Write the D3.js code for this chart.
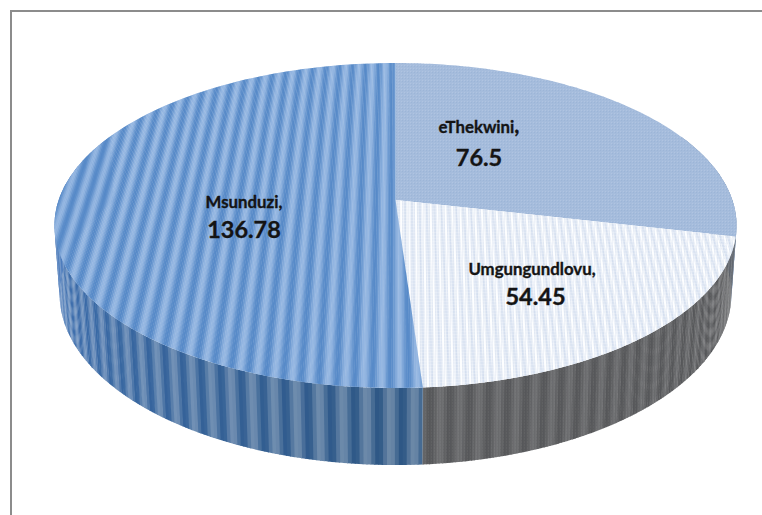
<!DOCTYPE html>
<html>
<head>
<meta charset="utf-8">
<script src="https://cdnjs.cloudflare.com/ajax/libs/d3/7.8.5/d3.min.js"></script>
<style>
  html, body { margin: 0; padding: 0; background: #fff; }
  svg { display: block; }
  text { font-family: Lato, "Open Sans", sans-serif; font-weight: 700; fill: #141414; stroke: #141414; stroke-width: 0.35px; text-anchor: middle; }
</style>
</head>
<body>
<svg id="chart" width="762" height="515"></svg>
<script>
// Municipalities and their values, clockwise from twelve o'clock
const municipalities = ["eThekwini", "Umgungundlovu", "Msunduzi"];
const amounts = [76.5, 54.45, 136.78];
const amountLabels = ["76.5", "54.45", "136.78"];

// Camera model for the tilted disc: u runs left-right, v runs back-front
const W = 762, H = 515;
const centre = { x: 395.5, y: 200 };
const disc = { a: 336.8, b: 158.5, tilt: 0.157, depth: 68.9, recede: 0.015 };

const px = d3.scaleLinear().domain([-1, 1]).range([centre.x - disc.a, centre.x + disc.a]);
const py = d3.scaleLinear().domain([-1, 1]).range([centre.y - disc.b, centre.y + disc.b]);

function project(u, v, lower) {
  const w = 1 - disc.tilt * v + (lower ? disc.recede : 0);
  const drop = lower ? disc.depth : 0;
  return [centre.x + (px(u) - centre.x) / w, centre.y + (py(v) - centre.y + drop) / w];
}
const rim = (theta, lower) => project(Math.sin(theta), -Math.cos(theta), lower);
const line = d3.line();

const svg = d3.select("#chart");
const defs = svg.append("defs");

// Pie layout keeps the source order and starts at the top
const slices = d3.pie().sort(null)(amounts);
const sliceName = i => `slice-${i}`;

function facePath(s) {
  const steps = d3.range(0, 121).map(k => rim(s.startAngle + (s.endAngle - s.startAngle) * k / 120, false));
  return line([project(0, 0, false), ...steps]) + "Z";
}

slices.forEach((s, i) => {
  defs.append("clipPath").attr("id", sliceName(i)).append("path").attr("d", facePath(s));
});

// Fine woven textures laid on top of the broad stripes
const dither = defs.append("pattern").attr("id", "dither").attr("width", 3).attr("height", 3)
  .attr("patternUnits", "userSpaceOnUse");
dither.append("rect").attr("width", 1).attr("height", 1).attr("fill", "#8ea9d0").attr("opacity", 0.4);
dither.append("rect").attr("x", 2).attr("y", 2).attr("width", 1).attr("height", 1).attr("fill", "#bccfe8").attr("opacity", 0.45);

const weave = defs.append("pattern").attr("id", "weave").attr("width", 3).attr("height", 3)
  .attr("patternUnits", "userSpaceOnUse");
weave.append("rect").attr("width", 1).attr("height", 3).attr("fill", "#c9d6ea").attr("opacity", 0.3);
weave.append("rect").attr("y", 1).attr("width", 3).attr("height", 1).attr("fill", "#ffffff").attr("opacity", 0.2);

const wallWeave = defs.append("pattern").attr("id", "wallWeave").attr("width", 3).attr("height", 3)
  .attr("patternUnits", "userSpaceOnUse");
wallWeave.append("rect").attr("width", 1).attr("height", 3).attr("fill", "#3c3f42").attr("opacity", 0.1);
wallWeave.append("rect").attr("x", 2).attr("width", 1).attr("height", 2).attr("fill", "#a0a2a5").attr("opacity", 0.08);

// Frame: only the top and left rules
svg.append("rect").attr("x", 10).attr("y", 10).attr("width", W - 10).attr("height", 2).attr("fill", "#8c8c8c");
svg.append("rect").attr("x", 10).attr("y", 10).attr("width", 2).attr("height", H - 10).attr("fill", "#8c8c8c");

// Cosine wave between two colours, sampled in a period
const wave = (t, c0, c1) => d3.interpolateRgb(c0, c1)(0.5 - 0.5 * Math.cos(2 * Math.PI * t));

// Side wall colours darken towards the front of the disc; tone runs 0 to 1 across a slice
const wallStyle = [
  { period: 0.056, dark: () => "#5f7fa8", light: () => "#8199bb", tone: () => 0 },
  { period: 0.05,
    dark: d3.interpolateRgb("#58595b", "#4b4f53"),
    light: d3.interpolateRgb("#717274", "#5c6064"),
    tone: th => Math.max(0, Math.min(1, (th - Math.PI) / (Math.PI * 0.45))) },
  { period: 0.06,
    dark: d3.interpolateRgb("#3f74ba", "#2c5684"),
    light: d3.interpolateRgb("#7ea0cf", "#6d89a8"),
    tone: th => Math.max(0, Math.min(1, (Math.PI * 1.5 - th) / (Math.PI * 0.5))) }
];
const wall = svg.append("g").attr("class", "wall");
slices.forEach((s, i) => {
  const st = wallStyle[i];
  const sub = st.period / 6;
  const from = Math.max(s.startAngle, Math.PI * 0.36);
  const to = Math.min(s.endAngle, Math.PI * 1.64);
  if (to <= from) return;
  d3.range(from, to, sub).forEach(th0 => {
    const th1 = Math.min(th0 + sub * 1.25, to);
    const phase = (th0 % st.period) / st.period;
    const tone = st.tone(th0);
    wall.append("path")
      .attr("d", line([rim(th0, false), rim(th1, false), rim(th1, true), rim(th0, true)]) + "Z")
      .attr("fill", wave(phase, st.dark(tone), st.light(tone)));
  });
  if (i === 1) {
    const edge = d3.range(0, 81).map(k => from + (to - from) * k / 80);
    wall.append("path")
      .attr("d", line([...edge.map(t => rim(t, false)), ...edge.slice().reverse().map(t => rim(t, true))]) + "Z")
      .attr("fill", "url(#wallWeave)");
  }
});

// Top face bands follow lines of constant u so they converge with the tilt
function bands(group, period, steps, colour) {
  const sub = period / steps;
  d3.range(-1.05, 1.05, sub).forEach(u0 => {
    const k = ((u0 + 1.05) % period) / period;
    group.append("path")
      .attr("d", line([project(u0, -1.05, false), project(u0 + sub * 1.25, -1.05, false),
                       project(u0 + sub * 1.25, 1.05, false), project(u0, 1.05, false)]) + "Z")
      .attr("fill", colour(k));
  });
}

const face = svg.append("g").attr("class", "faces");

// eThekwini: flat tint with a fine dither
face.append("path").attr("d", facePath(slices[0])).attr("fill", "#a5bcdc");
face.append("path").attr("d", facePath(slices[0])).attr("fill", "url(#dither)");

// Umgungundlovu: pale narrow stripes
const paleGroup = face.append("g").attr("clip-path", `url(#${sliceName(1)})`);
bands(paleGroup, 0.0215, 4, k => wave(k, "#dbe4f2", "#fdfeff"));
face.append("path").attr("d", facePath(slices[1])).attr("fill", "url(#weave)");

// Msunduzi: broad blue corrugation
const blueGroup = face.append("g").attr("clip-path", `url(#${sliceName(2)})`);
bands(blueGroup, 0.045, 10, k => wave(k, "#578ac8", "#97b8e2"));

// Data labels
const labelSpots = [
  { x: 479, nameY: 133, valueY: 166 },
  { x: 532, nameY: 275, valueY: 305 },
  { x: 244, nameY: 208, valueY: 238 }
];
const labels = svg.append("g").attr("class", "labels");
municipalities.forEach((name, i) => {
  const spot = labelSpots[i];
  const t = labels.append("text").attr("x", spot.x).attr("y", spot.nameY).attr("font-size", 16.8).text(name);
  t.append("tspan").attr("font-size", i === 0 ? 22 : 16.8).text(",");
  labels.append("text").attr("x", i === 1 ? spot.x + 3.5 : spot.x).attr("y", spot.valueY).attr("font-size", 23.5).text(amountLabels[i]);
});
</script>
</body>
</html>
